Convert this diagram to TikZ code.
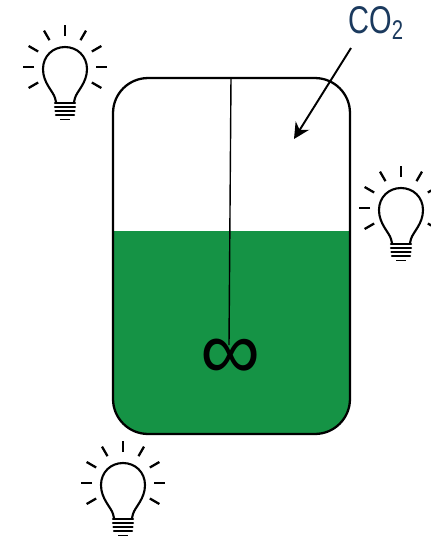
\documentclass[tikz,border=0pt]{standalone}
\usepackage{fontspec}
\usepackage{xcolor}
\usetikzlibrary{arrows.meta}
\setmainfont{Liberation Sans}
\definecolor{liquidgreen}{HTML}{159345}
\definecolor{gaslabel}{HTML}{1B3A5E}
\tikzset{
    bulb/.pic={
        \draw[line width=1.2pt, fill=white] (-9,35) -- (-10,31) .. controls (-12,24) and (-22,16) .. (-22,2)
            .. controls (-22,-11) and (-12,-20) .. (0,-20)
            .. controls (12,-20) and (22,-11) .. (22,2)
            .. controls (22,16) and (12,24) .. (10,31) -- (9,35);
        \foreach \a in {-210,-180,...,30}
            \draw[line width=1.3pt] (\a:31) -- (\a:42);
        \foreach \y/\w in {36/10,40/10,44/9.5,48/9}
            \draw[line width=1.4pt, line cap=round] (-\w,\y) -- (\w,\y);
        \draw[line width=1.1pt] (-5,52.5) -- (5,52.5);
    }
}
\begin{document}
\begin{tikzpicture}[x=0.02cm, y=-0.02cm]
        \clip (0,0) rectangle (431,538);

        \fill[liquidgreen] (113,231) -- (113,399) .. controls (113,418) and (129,434) .. (148,434) -- (315,434) .. controls (334,434) and (350,418) .. (350,399) -- (350,231) -- cycle;
        \node (vessel) at (231.5,256) [draw, rectangle, rounded corners=0.7cm, line width=1.3pt, minimum width=4.74cm, minimum height=7.12cm] {};

        \coordinate (shafttop) at (231,78);
        \coordinate (shaftend) at (229,345);
        \node (impeller) at (231,359) [font=\fontsize{48}{48}\selectfont] {∞};
        \draw[line width=0.8pt] (shafttop) -- (shaftend);

        \node (co2) at (376,23) [text=gaslabel, font=\fontsize{22}{22}\selectfont, xscale=0.75, transform shape] {CO\textsubscript{2}};
        \coordinate (arrowstart) at (351,48);
        \coordinate (arrowend) at (294,139);
        \draw[-{Stealth[length=9pt, width=9pt]}, line width=1.1pt] (arrowstart) -- (arrowend);

        \pic at (65,67) {bulb};
        \pic at (401,208) {bulb};
        \pic at (123,483) {bulb};
    \end{tikzpicture}
\end{document}
